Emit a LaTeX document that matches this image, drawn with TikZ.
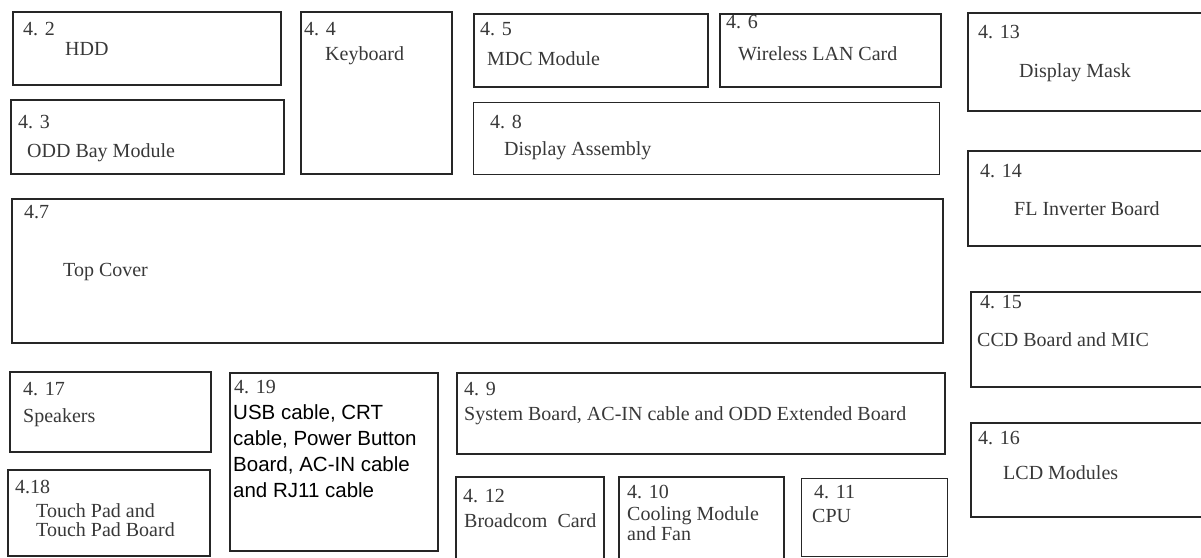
\documentclass[tikz,border=0pt]{standalone}
\usepackage{fontspec}
\setmainfont{Liberation Serif}
\newfontfamily\cablefont{Liberation Sans}
\usepackage{xcolor}

\begin{document}
\begin{tikzpicture}[x=1pt,y=-1pt,
  partbox/.style={draw=black!85,line width=2.2pt,anchor=north west,inner sep=0pt},
  numlbl/.style={anchor=base west,inner sep=0pt,text=black!78,font=\fontsize{20}{20}\selectfont},
  partlbl/.style={anchor=base west,inner sep=0pt,text=black!78,align=left,font=\fontsize{20}{20}\selectfont}]
\clip (0,0) rectangle (1201,557);
% top row
\node[partbox,minimum width=268,minimum height=73] (hdd) at (12,11) {};
\node[partbox,minimum width=273,minimum height=74] (odd) at (10,99) {};
\node[partbox,minimum width=151,minimum height=162] (kbd) at (300,11) {};
\node[partbox,minimum width=234,minimum height=73] (mdc) at (473,13) {};
\node[partbox,minimum width=221,minimum height=73] (wlan) at (719,13) {};
\node[partbox,minimum width=466,minimum height=72,line width=1.4pt] (disp) at (473,102) {};
\node[partbox,minimum width=931,minimum height=144] (top) at (11,198) {};
% display side
\node[partbox,minimum width=248,minimum height=98] (mask) at (967,12) {};
\node[partbox,minimum width=248,minimum height=95] (inv) at (967,150) {};
\node[partbox,minimum width=245,minimum height=95] (ccd) at (970,291) {};
\node[partbox,minimum width=245,minimum height=94] (lcd) at (970,422) {};
% bottom row
\node[partbox,minimum width=201,minimum height=80] (spk) at (9,371) {};
\node[partbox,minimum width=202,minimum height=86] (tpad) at (7,469) {};
\node[partbox,minimum width=208,minimum height=178] (cable) at (229,372) {};
\node[partbox,minimum width=488,minimum height=81] (sysb) at (456,372) {};
\node[partbox,minimum width=148,minimum height=94] (bcom) at (455,476) {};
\node[partbox,minimum width=165,minimum height=94] (cool) at (618,476) {};
\node[partbox,minimum width=146,minimum height=78,line width=1.4pt] (cpu) at (801,478) {};

\node[numlbl] (n42) at (23,35) {4. 2};
\node[partlbl] (t42) at (65,55) {HDD};
\node[numlbl] (n43) at (18,128) {4. 3};
\node[partlbl] (t43) at (27,157) {ODD Bay Module};
\node[numlbl] (n44) at (304,35) {4. 4};
\node[partlbl] (t44) at (325,60) {Keyboard};
\node[numlbl] (n45) at (480,35) {4. 5};
\node[partlbl] (t45) at (487,65) {MDC Module};
\node[numlbl] (n46) at (726,28) {4. 6};
\node[partlbl] (t46) at (738,60) {Wireless LAN Card};
\node[numlbl] (n48) at (490,128) {4. 8};
\node[partlbl] (t48) at (504,155) {Display Assembly};
\node[numlbl] (n47) at (24,218) {4.7};
\node[partlbl] (t47) at (63,276) {Top Cover};

\node[numlbl] (n413) at (978,38) {4. 13};
\node[partlbl] (t413) at (1019,77) {Display Mask};
\node[numlbl] (n414) at (980,177) {4. 14};
\node[partlbl] (t414) at (1014,215) {FL Inverter Board};
\node[numlbl] (n415) at (980,308) {4. 15};
\node[partlbl] (t415) at (977,346) {CCD Board and MIC};
\node[numlbl] (n416) at (978,444) {4. 16};
\node[partlbl] (t416) at (1003,479) {LCD Modules};

\node[numlbl] (n417) at (23,395) {4. 17};
\node[partlbl] (t417) at (23,422) {Speakers};
\node[numlbl] (n418) at (15,493) {4.18};
% base of a two-line label is its last line
\node[partlbl,font=\fontsize{20}{19}\selectfont] (t418) at (36,536) {Touch Pad and\\Touch Pad Board};
\node[numlbl] (n419) at (234,393) {4. 19};
\node[partlbl,text=black,font=\cablefont\fontsize{20.5}{26}\selectfont] (t419) at (233,497)
  {USB cable, CRT\\cable, Power Button\\Board, AC-IN cable\\and RJ11 cable};
\node[numlbl] (n49) at (464,395) {4. 9};
\node[partlbl] (t49) at (464,420) {System Board, AC-IN cable and ODD Extended Board};
\node[numlbl] (n412) at (463,502) {4. 12};
\node[partlbl] (t412) at (464,527) {Broadcom~ Card};
\node[numlbl] (n410) at (627,498) {4. 10};
\node[partlbl,font=\fontsize{20}{20}\selectfont] (t410) at (627,540) {Cooling Module\\and Fan};
\node[numlbl] (n411) at (814,498) {4. 11};
\node[partlbl] (t411) at (812,522) {CPU};
\end{tikzpicture}
\end{document}
